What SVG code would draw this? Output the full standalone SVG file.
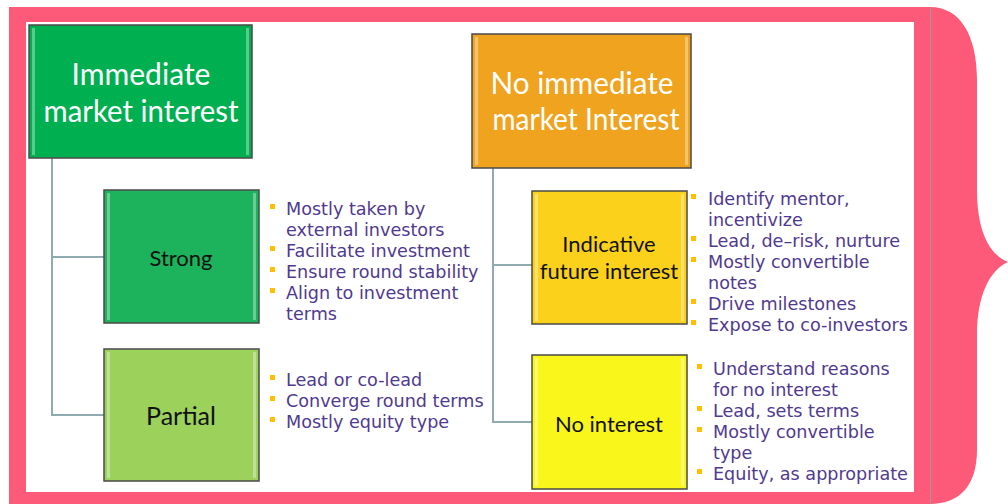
<svg xmlns="http://www.w3.org/2000/svg" width="1008" height="504" viewBox="0 0 1008 504">
<style>
.box{stroke:#4a4a4a;stroke-width:1.5}
.hl{fill:#ffffff;opacity:0.35}
.title{font-family:Lato,"Open Sans",sans-serif;font-size:30px;fill:#ffffff;text-anchor:middle}
.lbl{font-family:Lato,"Open Sans",sans-serif;font-size:22px;fill:#111111;text-anchor:middle}
.bt{font-family:"DejaVu Sans",Verdana,sans-serif;font-size:17.6px;fill:#4f3a8f}
.bul{fill:#ffc000}
.conn{fill:none;stroke:#8faab0;stroke-width:2}
</style>
<rect x="0" y="0" width="1008" height="504" fill="#ffffff"/>
<rect x="9" y="7" width="921" height="497" fill="#fd5a79"/>
<rect x="26" y="22" width="888" height="470" fill="#ffffff"/>
<path d="M930,7 C960,7 977,35 977,80 L977,190 C977,232 990,255 1008,262 C990,270 977,295 977,335 L977,450 C977,485 960,504 930,504 Z" fill="#fd5a79"/>
<line x1="930.5" y1="7" x2="930.5" y2="504" stroke="#9a9a9a" stroke-width="1"/>

<g id="connectors">
<path class="conn" d="M52,158 V415 H104 M52,257 H104"/>
<path class="conn" d="M493,168 V422 H532 M493,265 H532"/>
</g>

<g id="node-immediate">
<rect class="box" x="29" y="25" width="223" height="133" fill="#00b050"/>
<rect class="hl" x="32" y="28" width="3" height="127"/>
<rect class="hl" x="246" y="28" width="3" height="127"/>
<text class="title" x="141" y="85" textLength="139" lengthAdjust="spacingAndGlyphs">Immediate</text>
<text class="title" x="141" y="122" textLength="195" lengthAdjust="spacingAndGlyphs">market interest</text>
</g>

<g id="node-strong">
<rect class="box" x="104" y="190" width="155" height="133" fill="#1db35c"/>
<rect class="hl" x="107" y="193" width="3" height="127"/>
<rect class="hl" x="253" y="193" width="3" height="127"/>
<text class="lbl" x="181" y="266">Strong</text>
</g>

<g id="node-partial">
<rect class="box" x="104" y="349" width="155" height="132" fill="#9cd25c"/>
<rect class="hl" x="107" y="352" width="3" height="126"/>
<rect class="hl" x="253" y="352" width="3" height="126"/>
<text class="lbl" x="181" y="425" style="font-size:25px">Partial</text>
</g>

<g id="node-no-immediate">
<rect class="box" x="472" y="34" width="219" height="134" fill="#efa31e"/>
<rect class="hl" x="475" y="37" width="3" height="128"/>
<rect class="hl" x="685" y="37" width="3" height="128"/>
<text class="title" x="582" y="94" textLength="183" lengthAdjust="spacingAndGlyphs">No immediate</text>
<text class="title" x="586" y="130" textLength="187" lengthAdjust="spacingAndGlyphs">market Interest</text>
</g>

<g id="node-indicative">
<rect class="box" x="532" y="191" width="155" height="133" fill="#fcd11b"/>
<rect class="hl" x="535" y="194" width="3" height="127"/>
<rect class="hl" x="681" y="194" width="3" height="127"/>
<text class="lbl" x="609" y="252">Indicative</text>
<text class="lbl" x="609" y="279">future interest</text>
</g>

<g id="node-no-interest">
<rect class="box" x="532" y="355" width="155" height="134" fill="#f9f61b"/>
<rect class="hl" x="535" y="358" width="3" height="128"/>
<rect class="hl" x="681" y="358" width="3" height="128"/>
<text class="lbl" x="609" y="432">No interest</text>
</g>

<g id="bullets-strong">
<rect class="bul" x="270" y="204" width="5" height="5"/>
<rect class="bul" x="270" y="246" width="5" height="5"/>
<rect class="bul" x="270" y="267" width="5" height="5"/>
<rect class="bul" x="270" y="288" width="5" height="5"/>
<text class="bt" x="286" y="215">Mostly taken by</text>
<text class="bt" x="286" y="236">external investors</text>
<text class="bt" x="286" y="257">Facilitate investment</text>
<text class="bt" x="286" y="278">Ensure round stability</text>
<text class="bt" x="286" y="299">Align to investment</text>
<text class="bt" x="286" y="320">terms</text>
</g>

<g id="bullets-partial">
<rect class="bul" x="270" y="375" width="5" height="5"/>
<rect class="bul" x="270" y="396" width="5" height="5"/>
<rect class="bul" x="270" y="417" width="5" height="5"/>
<text class="bt" x="286" y="386">Lead or co-lead</text>
<text class="bt" x="286" y="407">Converge round terms</text>
<text class="bt" x="286" y="428">Mostly equity type</text>
</g>

<g id="bullets-indicative">
<rect class="bul" x="691" y="194" width="5" height="5"/>
<rect class="bul" x="691" y="236" width="5" height="5"/>
<rect class="bul" x="691" y="257" width="5" height="5"/>
<rect class="bul" x="691" y="299" width="5" height="5"/>
<rect class="bul" x="691" y="320" width="5" height="5"/>
<text class="bt" x="708" y="205">Identify mentor,</text>
<text class="bt" x="708" y="226">incentivize</text>
<text class="bt" x="708" y="247">Lead, de–risk, nurture</text>
<text class="bt" x="708" y="268">Mostly convertible</text>
<text class="bt" x="708" y="289">notes</text>
<text class="bt" x="708" y="310">Drive milestones</text>
<text class="bt" x="708" y="331">Expose to co-investors</text>
</g>

<g id="bullets-no-interest">
<rect class="bul" x="697" y="364" width="5" height="5"/>
<rect class="bul" x="697" y="406" width="5" height="5"/>
<rect class="bul" x="697" y="427" width="5" height="5"/>
<rect class="bul" x="697" y="469" width="5" height="5"/>
<text class="bt" x="713" y="375">Understand reasons</text>
<text class="bt" x="713" y="396">for no interest</text>
<text class="bt" x="713" y="417">Lead, sets terms</text>
<text class="bt" x="713" y="438">Mostly convertible</text>
<text class="bt" x="713" y="459">type</text>
<text class="bt" x="713" y="480">Equity, as appropriate</text>
</g>
</svg>
